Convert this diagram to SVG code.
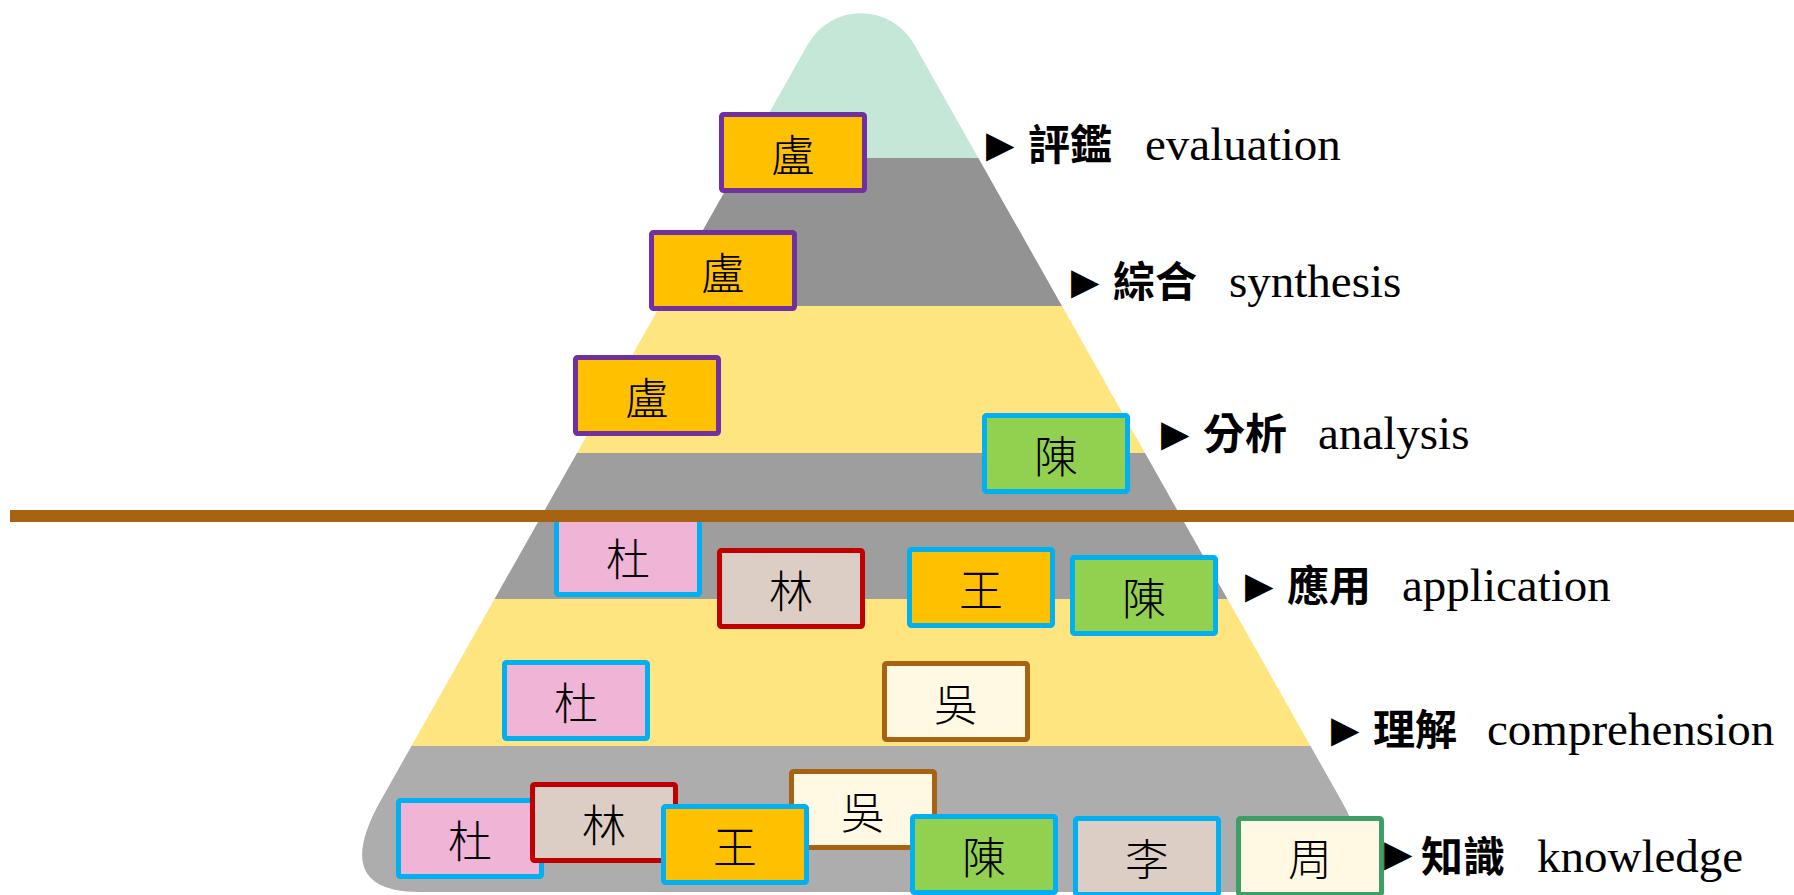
<svg xmlns="http://www.w3.org/2000/svg" width="1794" height="895" viewBox="0 0 1794 895">
  <defs>
    <clipPath id="pyrClip">
      <path d="M 808,44 A 61,61 0 0 1 914,44 L 1341,800 Q 1393,892 1302,892 L 420,892 Q 329,892 381,800 Z"/>
    </clipPath>
    <style>
      .box rect { stroke-width: 5; }
      .box text { font-family: "Noto Sans CJK TC", "Noto Sans CJK SC", sans-serif; font-size: 44px; font-weight: 300; fill: #000; text-anchor: middle; dominant-baseline: central; }
      .lu rect { fill: #FFC000; stroke: #7030A0; }
      .chen rect { fill: #92D050; stroke: #00B0F0; }
      .du rect { fill: #F0B4D7; stroke: #00B0F0; }
      .lin rect { fill: #DDCEC5; stroke: #C00000; }
      .wang rect { fill: #FFC000; stroke: #00B0F0; }
      .wu rect { fill: #FFF8E2; stroke: #A86312; }
      .li rect { fill: #DDCEC5; stroke: #00B0F0; }
      .zhou rect { fill: #FFF8E2; stroke: #3E9E68; }
      .tri { font-family: "DejaVu Sans", sans-serif; font-size: 37px; fill: #000; }
      .zh { font-family: "Noto Sans CJK TC", "Noto Sans CJK SC", sans-serif; font-size: 42px; font-weight: 700; fill: #000; }
      .en { font-family: "Liberation Serif", serif; font-size: 47px; fill: #000; }
    </style>
  </defs>

  <g id="pyramid" clip-path="url(#pyrClip)">
    <rect x="300" y="0" width="1150" height="158" fill="#C5E7D8"/>
    <rect x="300" y="158" width="1150" height="148" fill="#939393"/>
    <rect x="300" y="306" width="1150" height="147" fill="#FEE57F"/>
    <rect x="300" y="453" width="1150" height="146" fill="#9E9E9E"/>
    <rect x="300" y="599" width="1150" height="147" fill="#FEE57F"/>
    <rect x="300" y="746" width="1150" height="149" fill="#ADADAD"/>
  </g>

  <g id="nodes">
    <g id="eval-lu" class="box lu" transform="translate(719,112)"><rect x="2.5" y="2.5" width="143" height="76" rx="2"/><text x="74" y="40.5">盧</text></g>
    <g id="synth-lu" class="box lu" transform="translate(649,230)"><rect x="2.5" y="2.5" width="143" height="76" rx="2"/><text x="74" y="40.5">盧</text></g>
    <g id="analysis-lu" class="box lu" transform="translate(573,355)"><rect x="2.5" y="2.5" width="143" height="76" rx="2"/><text x="74" y="40.5">盧</text></g>
    <g id="analysis-chen" class="box chen" transform="translate(982,413)"><rect x="2.5" y="2.5" width="143" height="76" rx="2"/><text x="74" y="40.5">陳</text></g>

    <g id="app-du" class="box du" transform="translate(554,516)"><rect x="2.5" y="2.5" width="143" height="76" rx="2"/><text x="74" y="40.5">杜</text></g>
    <g id="app-lin" class="box lin" transform="translate(717,548)"><rect x="2.5" y="2.5" width="143" height="76" rx="2"/><text x="74" y="40.5">林</text></g>
    <g id="app-wang" class="box wang" transform="translate(907,547)"><rect x="2.5" y="2.5" width="143" height="76" rx="2"/><text x="74" y="40.5">王</text></g>
    <g id="app-chen" class="box chen" transform="translate(1070,555)"><rect x="2.5" y="2.5" width="143" height="76" rx="2"/><text x="74" y="40.5">陳</text></g>

    <g id="comp-du" class="box du" transform="translate(502,660)"><rect x="2.5" y="2.5" width="143" height="76" rx="2"/><text x="74" y="40.5">杜</text></g>
    <g id="comp-wu" class="box wu" transform="translate(882,661)"><rect x="2.5" y="2.5" width="143" height="76" rx="2"/><text x="74" y="40.5">吳</text></g>

    <g id="know-du" class="box du" transform="translate(396,798)"><rect x="2.5" y="2.5" width="143" height="76" rx="2"/><text x="74" y="40.5">杜</text></g>
    <g id="know-lin" class="box lin" transform="translate(530,782)"><rect x="2.5" y="2.5" width="143" height="76" rx="2"/><text x="74" y="40.5">林</text></g>
    <g id="know-wu" class="box wu" transform="translate(789,769)"><rect x="2.5" y="2.5" width="143" height="76" rx="2"/><text x="74" y="40.5">吳</text></g>
    <g id="know-wang" class="box wang" transform="translate(661,804)"><rect x="2.5" y="2.5" width="143" height="76" rx="2"/><text x="74" y="40.5">王</text></g>
    <g id="know-chen" class="box chen" transform="translate(910,814)"><rect x="2.5" y="2.5" width="143" height="76" rx="2"/><text x="74" y="40.5">陳</text></g>
    <g id="know-li" class="box li" transform="translate(1073,816)"><rect x="2.5" y="2.5" width="143" height="76" rx="2"/><text x="74" y="40.5">李</text></g>
    <g id="know-zhou" class="box zhou" transform="translate(1236,816)"><rect x="2.5" y="2.5" width="143" height="76" rx="2"/><text x="74" y="40.5">周</text></g>
  </g>

  <g id="connectors">
    <rect id="divider" x="10" y="510" width="1784" height="12" fill="#A86312"/>
  </g>

  <g id="labels">
    <g id="label-evaluation"><text class="tri" x="986" y="157">▶</text><text class="zh" x="1028" y="160">評鑑</text><text class="en" x="1145" y="160">evaluation</text></g>
    <g id="label-synthesis"><text class="tri" x="1071" y="294">▶</text><text class="zh" x="1113" y="297">綜合</text><text class="en" x="1229" y="297">synthesis</text></g>
    <g id="label-analysis"><text class="tri" x="1161" y="446">▶</text><text class="zh" x="1203" y="449">分析</text><text class="en" x="1318" y="449">analysis</text></g>
    <g id="label-application"><text class="tri" x="1245" y="598">▶</text><text class="zh" x="1287" y="601">應用</text><text class="en" x="1402" y="601">application</text></g>
    <g id="label-comprehension"><text class="tri" x="1331" y="742">▶</text><text class="zh" x="1373" y="745">理解</text><text class="en" x="1487" y="745">comprehension</text></g>
    <g id="label-knowledge"><text class="tri" x="1384" y="866">▶</text><text class="zh" x="1421" y="872">知識</text><text class="en" x="1537" y="872">knowledge</text></g>
  </g>
</svg>
